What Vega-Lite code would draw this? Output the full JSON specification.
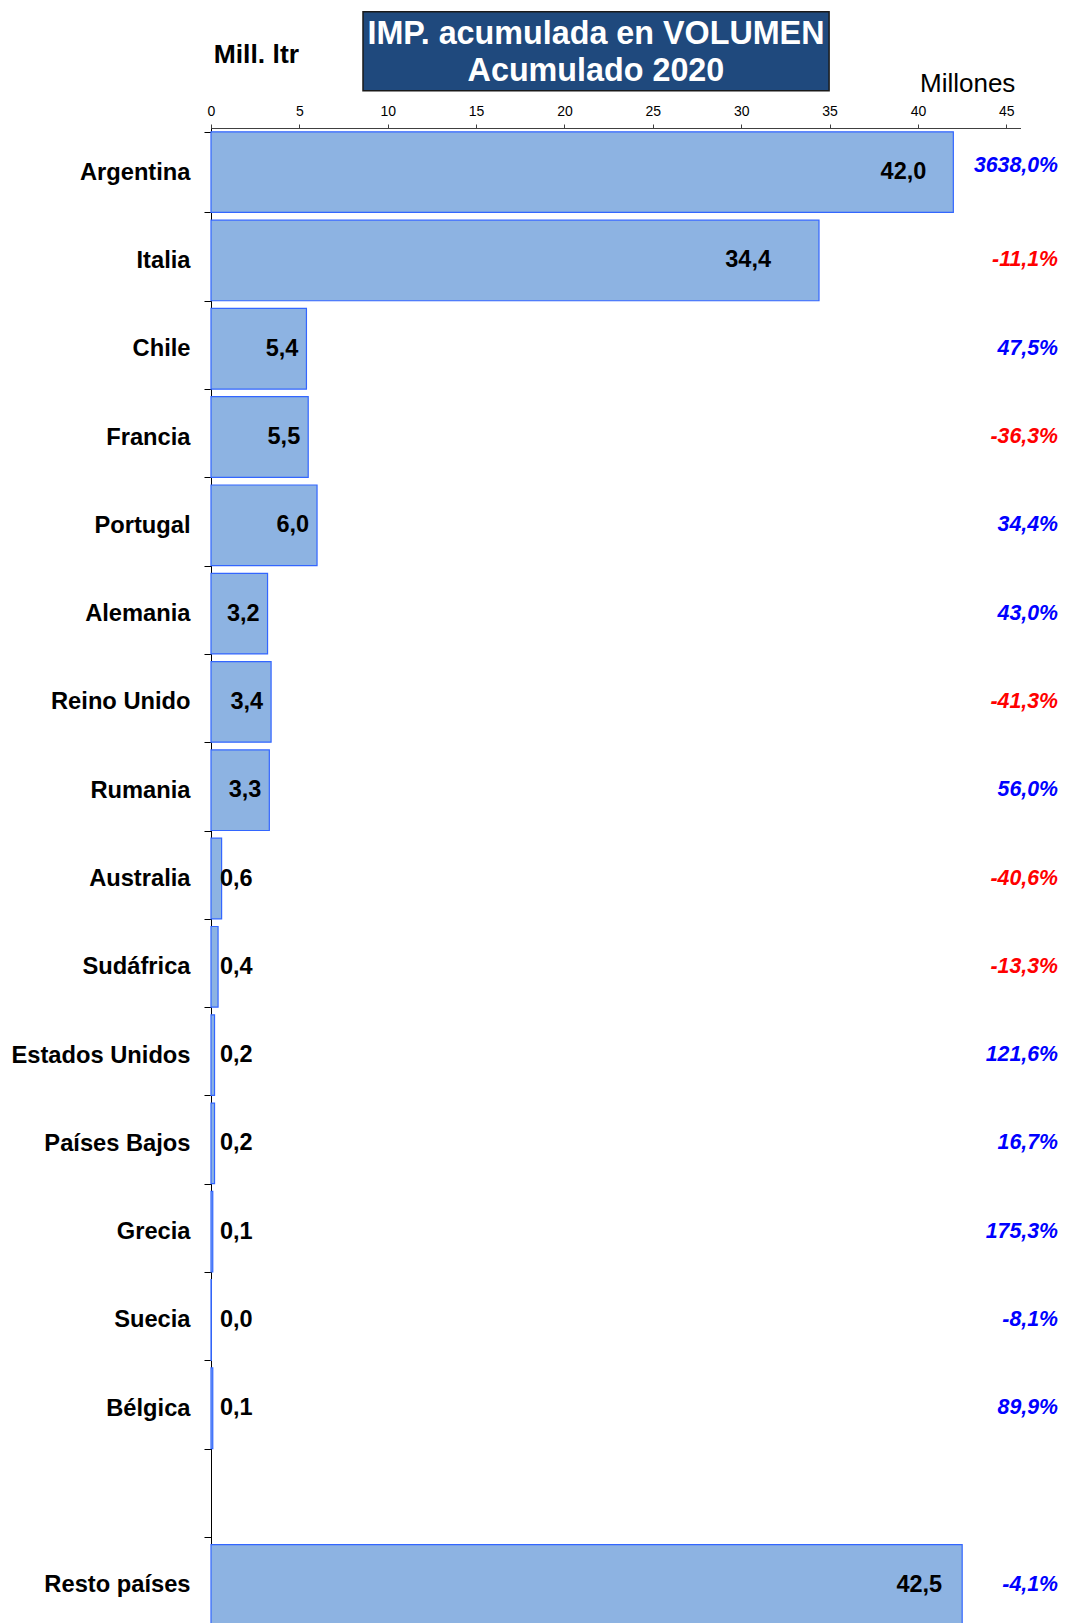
{
  "$schema": "https://vega.github.io/schema/vega-lite/v6.json",
  "width": 809.5,
  "height": 1501,
  "padding": 0,
  "background": "white",
  "config": {
    "view": {"stroke": null},
    "font": "Liberation Sans",
    "locale": {"number": {"decimal": ",", "thousands": ".", "grouping": [3], "currency": ["", " €"], "minus": "-"}}
  },
  "data": {
    "values": [
      {"pais": "Argentina", "valor": 42.0, "var": 36.38},
      {"pais": "Italia", "valor": 34.4, "var": -0.111},
      {"pais": "Chile", "valor": 5.4, "var": 0.475},
      {"pais": "Francia", "valor": 5.5, "var": -0.363},
      {"pais": "Portugal", "valor": 6.0, "var": 0.344},
      {"pais": "Alemania", "valor": 3.2, "var": 0.43},
      {"pais": "Reino Unido", "valor": 3.4, "var": -0.413},
      {"pais": "Rumania", "valor": 3.3, "var": 0.56},
      {"pais": "Australia", "valor": 0.6, "var": -0.406},
      {"pais": "Sudáfrica", "valor": 0.4, "var": -0.133},
      {"pais": "Estados Unidos", "valor": 0.2, "var": 1.216},
      {"pais": "Países Bajos", "valor": 0.2, "var": 0.167},
      {"pais": "Grecia", "valor": 0.1, "var": 1.753},
      {"pais": "Suecia", "valor": 0.02, "var": -0.081},
      {"pais": "Bélgica", "valor": 0.1, "var": 0.899},
      {"pais": "Resto países", "valor": 42.5, "var": -0.041}
    ]
  },
  "resolve": {"scale": {"y": "independent"}},
  "layer": [
    {
      "encoding": {
        "y": {
          "field": "pais",
          "type": "nominal",
          "scale": {
            "domain": ["Argentina", "Italia", "Chile", "Francia", "Portugal", "Alemania", "Reino Unido", "Rumania", "Australia", "Sudáfrica", "Estados Unidos", "Países Bajos", "Grecia", "Suecia", "Bélgica", " ", "Resto países"],
            "paddingInner": 0.087,
            "paddingOuter": 0.0435
          },
          "axis": {
            "title": null,
            "orient": "left",
            "tickBand": "extent",
            "tickSize": 7,
            "tickColor": "#000000",
            "domainColor": "#000000",
            "labelPadding": 14,
            "labelFont": "Liberation Sans",
            "labelFontWeight": "bold",
            "labelFontSize": 23.7,
            "labelColor": "#000000",
            "labelLimit": 400,
            "minExtent": 211,
            "maxExtent": 211
          }
        },
        "x": {
          "field": "valor",
          "type": "quantitative",
          "scale": {"domain": [0, 45.8], "nice": false, "zero": true},
          "axis": {
            "title": null,
            "orient": "top",
            "values": [0, 5, 10, 15, 20, 25, 30, 35, 40, 45],
            "grid": false,
            "labelFlush": false,
            "tickSize": 4,
            "tickColor": "#404040",
            "domainColor": "#404040",
            "labelPadding": 6,
            "labelFontSize": 14,
            "labelColor": "#000000",
            "labelFont": "Liberation Sans",
            "minExtent": 128,
            "maxExtent": 128
          }
        }
      },
      "layer": [
        {
          "mark": {"type": "bar", "fill": "#8DB3E2", "stroke": "#3366FF", "strokeWidth": 1.2}
        },
        {
          "transform": [{"filter": "datum.valor < 1"}],
          "mark": {"type": "text", "align": "left", "baseline": "middle", "dx": 9, "fontSize": 23.5, "fontWeight": "bold", "color": "#000000"},
          "encoding": {"x": {"datum": 0}, "text": {"field": "valor", "type": "quantitative", "format": ".1f"}}
        },
        {
          "transform": [{"filter": "datum.valor >= 1 && datum.valor < 30"}],
          "mark": {"type": "text", "align": "right", "baseline": "middle", "dx": -8, "fontSize": 23.5, "fontWeight": "bold", "color": "#000000"},
          "encoding": {"text": {"field": "valor", "type": "quantitative", "format": ".1f"}}
        },
        {
          "transform": [{"filter": "datum.pais == 'Argentina'"}],
          "mark": {"type": "text", "align": "right", "baseline": "middle", "dx": -27, "fontSize": 23.5, "fontWeight": "bold", "color": "#000000"},
          "encoding": {"text": {"field": "valor", "type": "quantitative", "format": ".1f"}}
        },
        {
          "transform": [{"filter": "datum.pais == 'Italia'"}],
          "mark": {"type": "text", "align": "right", "baseline": "middle", "dx": -48, "fontSize": 23.5, "fontWeight": "bold", "color": "#000000"},
          "encoding": {"text": {"field": "valor", "type": "quantitative", "format": ".1f"}}
        },
        {
          "transform": [{"filter": "datum.pais == 'Resto países'"}],
          "mark": {"type": "text", "align": "right", "baseline": "middle", "dx": -20, "fontSize": 23.5, "fontWeight": "bold", "color": "#000000"},
          "encoding": {"text": {"field": "valor", "type": "quantitative", "format": ".1f"}}
        },
        {
          "transform": [{"filter": "datum.pais != 'Argentina'"}],
          "mark": {"type": "text", "align": "right", "baseline": "middle", "fontSize": 21.3, "fontWeight": "bold", "fontStyle": "italic"},
          "encoding": {
            "x": {"datum": 47.92},
            "text": {"field": "var", "type": "quantitative", "format": ".1%"},
            "color": {"condition": {"test": "datum['var'] < -0.1", "value": "#FF0000"}, "value": "#0000FF"}
          }
        },
        {
          "transform": [{"filter": "datum.pais == 'Argentina'"}],
          "mark": {"type": "text", "align": "right", "baseline": "middle", "dy": -6, "fontSize": 21.3, "fontWeight": "bold", "fontStyle": "italic"},
          "encoding": {
            "x": {"datum": 47.92},
            "text": {"field": "var", "type": "quantitative", "format": ".1%"},
            "color": {"condition": {"test": "datum['var'] < -0.1", "value": "#FF0000"}, "value": "#0000FF"}
          }
        }
      ]
    },
    {
      "data": {"values": [{}]},
      "layer": [
        {
          "mark": {"type": "rect", "fill": "#1F497D", "stroke": "#1a1a1a", "strokeWidth": 1.5},
          "encoding": {
            "x": {"datum": 8.6, "type": "quantitative"},
            "x2": {"datum": 34.97},
            "y": {"datum": -116.3, "type": "quantitative", "scale": {"domain": [0, 1501], "reverse": true, "nice": false, "zero": false}, "axis": null},
            "y2": {"datum": -37.3}
          }
        },
        {
          "mark": {"type": "text", "align": "center", "baseline": "alphabetic", "fontSize": 32.3, "fontWeight": "bold", "color": "#FFFFFF", "text": "IMP. acumulada en VOLUMEN"},
          "encoding": {"x": {"datum": 21.78, "type": "quantitative"}, "y": {"datum": -83.7, "type": "quantitative"}}
        },
        {
          "mark": {"type": "text", "align": "center", "baseline": "alphabetic", "fontSize": 32.3, "fontWeight": "bold", "color": "#FFFFFF", "text": "Acumulado 2020"},
          "encoding": {"x": {"datum": 21.78, "type": "quantitative"}, "y": {"datum": -47, "type": "quantitative"}}
        },
        {
          "mark": {"type": "text", "align": "left", "baseline": "alphabetic", "fontSize": 26.5, "fontWeight": "bold", "color": "#000000", "text": "Mill. ltr"},
          "encoding": {"x": {"datum": 0.15, "type": "quantitative"}, "y": {"datum": -64.7, "type": "quantitative"}}
        },
        {
          "mark": {"type": "text", "align": "right", "baseline": "alphabetic", "fontSize": 26, "color": "#000000", "text": "Millones"},
          "encoding": {"x": {"datum": 45.51, "type": "quantitative"}, "y": {"datum": -35.7, "type": "quantitative"}}
        }
      ]
    }
  ]
}
